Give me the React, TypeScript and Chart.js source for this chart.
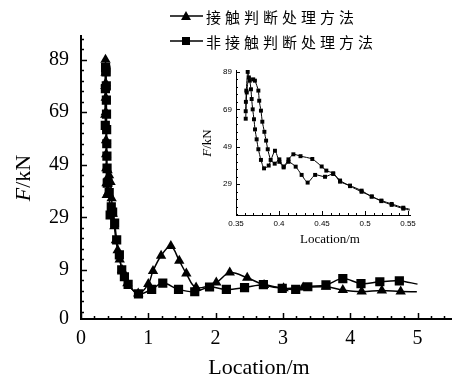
import React, { useEffect, useRef } from 'react';
import { Chart, registerables } from 'chart.js';

Chart.register(...registerables);

// ---------------- data ----------------
const legendLabels = ['接触判断处理方法', '非接触判断处理方法'];
const xTitle = 'Location/m';
const yTitle = 'F/kN';

const mainXTicks = [0, 1, 2, 3, 4, 5];
const mainYTicks = [9, 29, 49, 69, 89];
const mainYBottomLabel = '0';

// contact method (triangles)
const contactX = [0.361, 0.362, 0.364, 0.366, 0.367, 0.368, 0.369, 0.371, 0.372, 0.374, 0.376, 0.379, 0.383, 0.395, 0.405, 0.417, 0.439, 0.455, 0.471, 0.496, 0.519, 0.545, 0.575, 0.61, 0.69, 0.85, 1.0, 1.07, 1.19, 1.335, 1.46, 1.565, 1.71, 2.01, 2.21, 2.47, 2.72, 3.01, 3.3, 3.64, 3.89, 4.17, 4.47, 4.75, 4.99];
const contactY = [68, 79, 89, 84, 80, 74.5, 69, 63.7, 58.3, 53, 47.7, 42, 37.5, 46.9, 38.5, 45, 42.5, 36.3, 30.4, 25.6, 20.3, 16.5, 13, 9, 3.9, 0, 3.6, 8.6, 14.4, 18.1, 12.5, 7.6, 2.3, 4.2, 8, 6, 3.3, 2, 2.3, 2.6, 1.4, 0.8, 1.2, 0.8, 0.7];

// non-contact method (squares)
const nonContactX = [0.361, 0.3625, 0.365, 0.37, 0.372, 0.376, 0.377, 0.379, 0.381, 0.383, 0.385, 0.387, 0.39, 0.4, 0.419, 0.433, 0.45, 0.47, 0.5, 0.53, 0.57, 0.605, 0.645, 0.7, 0.854, 1.05, 1.215, 1.449, 1.69, 1.91, 2.16, 2.43, 2.71, 2.99, 3.19, 3.37, 3.64, 3.89, 4.16, 4.44, 4.73, 5.0];
const nonContactY = [64, 78, 86, 85, 84.3, 79, 73.6, 68.3, 62.4, 57, 52.3, 47.7, 42, 42.3, 38.4, 29.9, 33, 31, 26.8, 20.4, 14.7, 9, 6.4, 3.5, -0.1, 1.6, 4, 1.6, 0.7, 2.5, 1.6, 2.3, 3.4, 2.0, 1.6, 2.6, 3.3, 5.7, 3.8, 4.5, 4.8, 3.6];

// inset (zoom of 0.35 - 0.55 m)
const insetXTicks = [0.35, 0.4, 0.45, 0.5, 0.55];
const insetYTicks = [29, 49, 69, 89];
const insetAX = [0.3613, 0.3615, 0.362, 0.3636, 0.366, 0.3674, 0.3682, 0.3694, 0.3709, 0.3721, 0.374, 0.376, 0.379, 0.3826, 0.388, 0.3953, 0.4004, 0.4054, 0.411, 0.4167, 0.425, 0.4387, 0.4496, 0.455, 0.463, 0.471, 0.4826, 0.496, 0.5078, 0.519, 0.531, 0.5445, 0.552];
const insetAY = [68, 73, 79, 89, 84.3, 79.7, 74.5, 69, 63.7, 58.3, 53, 47.7, 42, 37.5, 39, 46.9, 41, 38.5, 42.3, 45, 44, 42.5, 38.5, 36.3, 34.9, 30.4, 28.3, 25.6, 22.4, 20.3, 18.5, 16.5, 15.7];
const insetBX = [0.3613, 0.3625, 0.365, 0.37, 0.372, 0.376, 0.377, 0.379, 0.3806, 0.383, 0.385, 0.3869, 0.3903, 0.395, 0.4004, 0.4054, 0.411, 0.4194, 0.4263, 0.4333, 0.442, 0.4535, 0.463, 0.471, 0.4826, 0.496, 0.5078, 0.519, 0.531, 0.5445, 0.552];
const insetBY = [64, 78, 86, 85, 84.3, 79, 73.6, 68.3, 62.4, 57, 52.3, 47.7, 42, 40, 42.3, 38, 41, 38.4, 34, 29.9, 34, 33, 34.5, 31, 28, 25, 22.5, 20, 18, 16, 15.2];

// ---------------- styling ----------------
const SERIF = '"Liberation Serif", "Times New Roman", serif';
const SANS = '"Liberation Sans", Arial, sans-serif';
const CJK = '"Noto Sans CJK SC", sans-serif';

const MAIN_X_MAX = 5.505;
const MAIN_Y_MIN = -9.67;
const MAIN_Y_MAX = 98;
const INSET_X_MIN = 0.35;
const INSET_X_MAX = 0.5523;
const INSET_Y_MIN = 12.6;
const INSET_Y_MAX = 90;

function toPoints(xs: number[], ys: number[]) {
  return xs.map((x, i) => ({ x, y: ys[i] }));
}

function drawYTitle(ctx: CanvasRenderingContext2D, text: string, cx: number, cy: number, size: number) {
  ctx.save();
  ctx.translate(cx, cy);
  ctx.rotate(-Math.PI / 2);
  const first = text.slice(0, 1);
  const rest = text.slice(1);
  const fI = `italic ${size}px ${SERIF}`;
  const fN = `${size}px ${SERIF}`;
  ctx.font = fI;
  const w1 = ctx.measureText(first).width;
  ctx.font = fN;
  const w2 = ctx.measureText(rest).width;
  const start = -(w1 + w2) / 2;
  ctx.fillStyle = '#000';
  ctx.textBaseline = 'middle';
  ctx.textAlign = 'left';
  ctx.font = fI;
  ctx.fillText(first, start, 0);
  ctx.font = fN;
  ctx.fillText(rest, start + w1, 0);
  ctx.restore();
}

type TickCfg = {
  xMajor: number[];
  xMinor: number[];
  yMajor: number[];
  yMinor: number[];
  majorLen: number;
  minorLen: number;
  width: number;
};

function drawInwardTicks(chart: any, cfg: TickCfg) {
  const { ctx, chartArea, scales } = chart;
  const sx = scales.x;
  const sy = scales.y;
  ctx.save();
  ctx.strokeStyle = '#000';
  ctx.lineWidth = cfg.width;
  ctx.beginPath();
  const xt = (v: number, len: number) => {
    const p = Math.round(sx.getPixelForValue(v)) + 0.5;
    ctx.moveTo(p, chartArea.bottom);
    ctx.lineTo(p, chartArea.bottom - len);
  };
  const yt = (v: number, len: number) => {
    const p = Math.round(sy.getPixelForValue(v)) + 0.5;
    ctx.moveTo(chartArea.left, p);
    ctx.lineTo(chartArea.left + len, p);
  };
  cfg.xMajor.forEach((v) => xt(v, cfg.majorLen));
  cfg.xMinor.forEach((v) => xt(v, cfg.minorLen));
  cfg.yMajor.forEach((v) => yt(v, cfg.majorLen));
  cfg.yMinor.forEach((v) => yt(v, cfg.minorLen));
  ctx.stroke();
  ctx.restore();
}

function minorList(start: number, step: number, count: number, skipEvery: number) {
  const out: number[] = [];
  for (let i = 0; i <= count; i++) {
    if (skipEvery > 0 && i % skipEvery === 0) continue;
    out.push(start + i * step);
  }
  return out;
}

const mainDecor = {
  id: 'mainDecor',
  afterDraw(chart: any) {
    const ctx: CanvasRenderingContext2D = chart.ctx;
    // y minor ticks every 4 from 89
    const yMinor: number[] = [];
    for (let i = -4; i <= 24; i++) {
      const v = 89 - i * 4;
      if (v <= MAIN_Y_MIN || v >= MAIN_Y_MAX) continue;
      if (i % 5 === 0) continue;
      yMinor.push(v);
    }
    drawInwardTicks(chart, {
      xMajor: mainXTicks,
      xMinor: minorList(0, 0.2, 27, 5),
      yMajor: mainYTicks,
      yMinor,
      majorLen: 6,
      minorLen: 3,
      width: 1.5,
    });

    // axis titles
    ctx.save();
    ctx.fillStyle = '#000';
    ctx.font = `22px ${SERIF}`;
    ctx.textAlign = 'center';
    ctx.textBaseline = 'alphabetic';
    ctx.fillText(xTitle, 259, 374);
    ctx.restore();
    drawYTitle(ctx, yTitle, 24, 178, 22);

    // legend
    ctx.save();
    ctx.strokeStyle = '#000';
    ctx.fillStyle = '#000';
    ctx.lineWidth = 1.5;
    const rows = [16, 41];
    rows.forEach((ry, i) => {
      ctx.beginPath();
      ctx.moveTo(170, ry);
      ctx.lineTo(203, ry);
      ctx.stroke();
      ctx.beginPath();
      if (i === 0) {
        ctx.moveTo(186, ry - 5);
        ctx.lineTo(191, ry + 4);
        ctx.lineTo(181, ry + 4);
        ctx.closePath();
        ctx.fill();
      } else {
        ctx.fillRect(182, ry - 4, 8, 8);
      }
      ctx.font = `15px ${CJK}`;
      (ctx as any).letterSpacing = '4px';
      ctx.textAlign = 'left';
      ctx.textBaseline = 'middle';
      ctx.fillText(legendLabels[i], 206, ry + 1);
    });
    ctx.restore();
  },
};

const insetDecor = {
  id: 'insetDecor',
  afterDraw(chart: any) {
    const ctx: CanvasRenderingContext2D = chart.ctx;
    const yMinor: number[] = [];
    for (let i = 1; i <= 19; i++) {
      const v = 89 - i * 4;
      if (v <= INSET_Y_MIN) continue;
      if (i % 5 === 0) continue;
      yMinor.push(v);
    }
    drawInwardTicks(chart, {
      xMajor: insetXTicks,
      xMinor: minorList(0.35, 0.01, 20, 5),
      yMajor: insetYTicks,
      yMinor,
      majorLen: 4,
      minorLen: 2,
      width: 1,
    });
    ctx.save();
    ctx.fillStyle = '#000';
    ctx.font = `13px ${SERIF}`;
    ctx.textAlign = 'center';
    ctx.textBaseline = 'alphabetic';
    ctx.fillText(xTitle, 135, 183);
    ctx.restore();
    drawYTitle(ctx, yTitle, 13, 83, 13);
  },
};

function lastHidden(n: number, r: number) {
  return (c: any) => (c.dataIndex === n - 1 ? 0 : r);
}

export default function App() {
  const mainRef = useRef<HTMLCanvasElement>(null);
  const insetRef = useRef<HTMLCanvasElement>(null);

  useEffect(() => {
    if (!mainRef.current || !insetRef.current) return;

    const main = new Chart(mainRef.current, {
      type: 'line',
      data: {
        datasets: [
          {
            label: legendLabels[0],
            data: toPoints(contactX, contactY),
            borderColor: '#000',
            backgroundColor: '#000',
            borderWidth: 1.5,
            pointStyle: 'triangle',
            pointRadius: lastHidden(contactX.length, 6),
            pointBackgroundColor: '#000',
            pointBorderColor: '#000',
            pointBorderWidth: 0,
            tension: 0.35,
          },
          {
            label: legendLabels[1],
            data: toPoints(nonContactX, nonContactY),
            borderColor: '#000',
            backgroundColor: '#000',
            borderWidth: 1.5,
            pointStyle: 'rect',
            pointRadius: lastHidden(nonContactX.length, 6.5),
            pointBackgroundColor: '#000',
            pointBorderColor: '#000',
            pointBorderWidth: 0,
            tension: 0.35,
          },
        ],
      },
      options: {
        animation: false,
        responsive: false,
        maintainAspectRatio: false,
        events: [],
        layout: { padding: { top: 36, right: 1, left: 0, bottom: 0 } },
        plugins: { legend: { display: false }, tooltip: { enabled: false } },
        scales: {
          x: {
            type: 'linear',
            min: 0,
            max: MAIN_X_MAX,
            afterBuildTicks: (s: any) => {
              s.ticks = mainXTicks.map((v) => ({ value: v }));
            },
            afterFit: (s: any) => {
              s.height = 58;
            },
            ticks: {
              autoSkip: false,
              maxRotation: 0,
              color: '#000',
              padding: 8,
              font: { family: SERIF, size: 20 },
              callback: (v: any) => String(v),
            },
            grid: { display: false, drawTicks: false },
            border: { display: true, color: '#000', width: 2 },
          },
          y: {
            type: 'linear',
            min: MAIN_Y_MIN,
            max: MAIN_Y_MAX,
            afterBuildTicks: (s: any) => {
              s.ticks = [MAIN_Y_MIN, ...mainYTicks].map((v) => ({ value: v }));
            },
            afterFit: (s: any) => {
              s.width = 81;
            },
            ticks: {
              autoSkip: false,
              color: '#000',
              padding: 12,
              font: { family: SERIF, size: 20 },
              callback: (v: any) => (v === MAIN_Y_MIN ? mainYBottomLabel : String(v)),
            },
            grid: { display: false, drawTicks: false },
            border: { display: true, color: '#000', width: 2 },
          },
        },
      },
      plugins: [mainDecor],
    } as any);

    const inset = new Chart(insetRef.current, {
      type: 'line',
      data: {
        datasets: [
          {
            data: toPoints(insetAX, insetAY),
            borderColor: '#000',
            borderWidth: 1,
            pointStyle: 'rect',
            pointRadius: lastHidden(insetAX.length, 2.8),
            pointBackgroundColor: '#000',
            pointBorderWidth: 0,
            tension: 0.2,
          },
          {
            data: toPoints(insetBX, insetBY),
            borderColor: '#000',
            borderWidth: 1,
            pointStyle: 'rect',
            pointRadius: lastHidden(insetBX.length, 2.8),
            pointBackgroundColor: '#000',
            pointBorderWidth: 0,
            tension: 0.2,
          },
        ],
      },
      options: {
        animation: false,
        responsive: false,
        maintainAspectRatio: false,
        events: [],
        layout: { padding: { top: 10, right: 10, left: 0, bottom: 0 } },
        plugins: { legend: { display: false }, tooltip: { enabled: false } },
        scales: {
          x: {
            type: 'linear',
            min: INSET_X_MIN,
            max: INSET_X_MAX,
            afterBuildTicks: (s: any) => {
              s.ticks = insetXTicks.map((v) => ({ value: v }));
            },
            afterFit: (s: any) => {
              s.height = 30;
            },
            ticks: {
              autoSkip: false,
              maxRotation: 0,
              color: '#000',
              padding: 4,
              font: { family: SANS, size: 8 },
              callback: (v: any) => String(v),
            },
            grid: { display: false, drawTicks: false },
            border: { display: true, color: '#000', width: 1 },
          },
          y: {
            type: 'linear',
            min: INSET_Y_MIN,
            max: INSET_Y_MAX,
            afterBuildTicks: (s: any) => {
              s.ticks = insetYTicks.map((v) => ({ value: v }));
            },
            afterFit: (s: any) => {
              s.width = 41;
            },
            ticks: {
              autoSkip: false,
              color: '#000',
              padding: 4,
              font: { family: SANS, size: 8 },
              callback: (v: any) => String(v),
            },
            grid: { display: false, drawTicks: false },
            border: { display: true, color: '#000', width: 1 },
          },
        },
      },
      plugins: [insetDecor],
    } as any);

    return () => {
      main.destroy();
      inset.destroy();
    };
  }, []);

  return (
    <div style={{ position: 'absolute', left: 0, top: 0, width: 458, height: 377, background: '#fff' }}>
      <canvas ref={mainRef} width={458} height={377} style={{ position: 'absolute', left: 0, top: 0, width: 458, height: 377 }} />
      <canvas ref={insetRef} width={225} height={185} style={{ position: 'absolute', left: 195, top: 60, width: 225, height: 185 }} />
    </div>
  );
}
